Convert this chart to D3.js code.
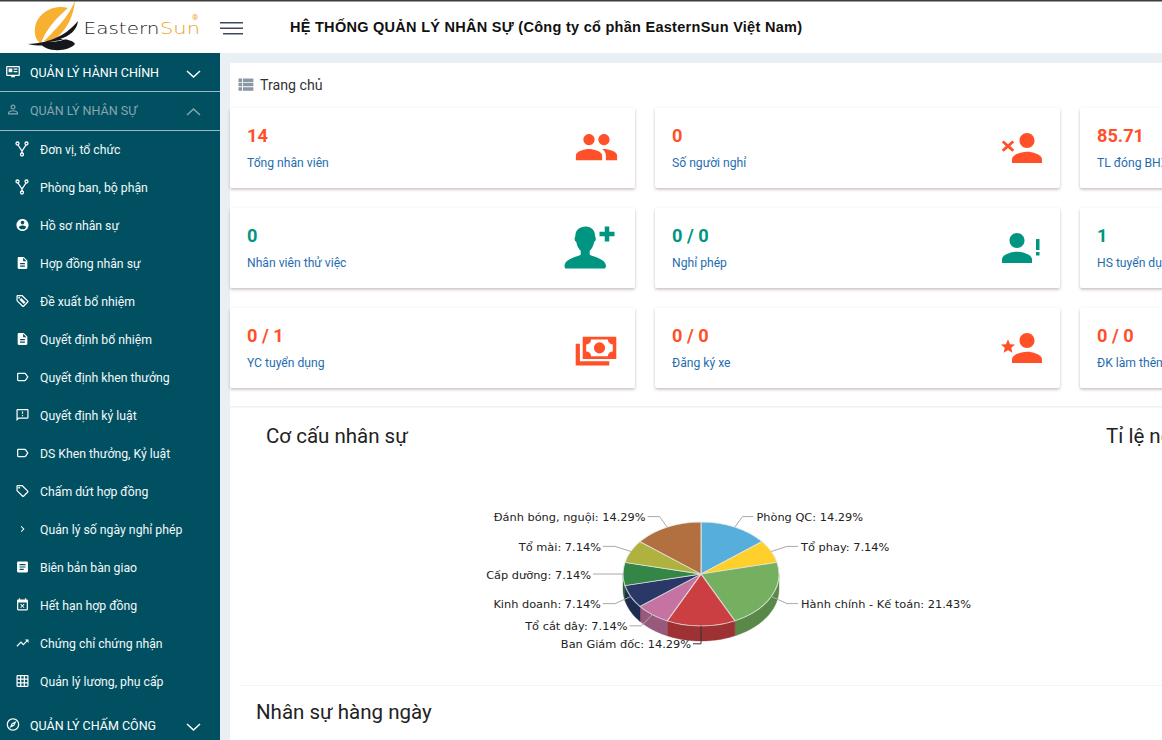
<!DOCTYPE html>
<html><head><meta charset="utf-8">
<style>html,body{margin:0;padding:0;background:#fff;overflow:hidden}svg{display:block}text{font-family:Roboto,sans-serif}</style>
<script src="https://cdn.jsdelivr.net/npm/d3@7/dist/d3.min.js"></script>
</head><body><div id="app"></div>
<script>
// ---- chart data ----
const categories = ["Phòng QC","Tổ phay","Hành chính - Kế toán","Ban Giám đốc","Tổ cắt dây","Kinh doanh","Cấp dưỡng","Tổ mài","Đánh bóng, nguội"];
const headcount = [2,1,3,2,1,1,1,1,2];
const percents = [14.29,7.14,21.43,14.29,7.14,7.14,7.14,7.14,14.29];
const sliceColors = ["#55aedb","#ffd02c","#74b05f","#cb3f42","#c473a2","#2a3868","#338646","#b0b23f","#b27040"];
// ---- page text ----
const menuLabels = ["Đơn vị, tổ chức","Phòng ban, bộ phận","Hồ sơ nhân sự","Hợp đồng nhân sự","Đề xuất bổ nhiệm","Quyết định bổ nhiệm","Quyết định khen thưởng","Quyết định kỷ luật","DS Khen thưởng, Kỷ luật","Chấm dứt hợp đồng","Quản lý số ngày nghỉ phép","Biên bản bàn giao","Hết hạn hợp đồng","Chứng chỉ chứng nhận","Quản lý lương, phụ cấp"];
const menuIcons = ["fork","fork","account","doc","tag2","doc","label","feedback","label","tag","chev","article","busy","trend","grid"];
const cardValues = ["14","0","85.71","0","0 / 0","1","0 / 1","0 / 0","0 / 0"];
const cardLabels = ["Tổng nhân viên","Số người nghỉ","TL đóng BHXH","Nhân viên thử việc","Nghỉ phép","HS tuyển dụng","YC tuyển dụng","Đăng ký xe","ĐK làm thêm"];
const cardTones = ["o","o","o","t","t","t","o","o","o"];

const P = {
 people:"M16 11c1.66 0 2.99-1.34 2.99-3S17.66 5 16 5c-1.66 0-3 1.34-3 3s1.34 3 3 3zm-8 0c1.66 0 2.99-1.34 2.99-3S9.66 5 8 5C6.34 5 5 6.34 5 8s1.34 3 3 3zm0 2c-2.33 0-7 1.17-7 3.5V19h14v-2.5c0-2.33-4.67-3.5-7-3.5zm8 0c-.29 0-.62.02-.97.05 1.16.84 1.97 1.97 1.97 3.45V19h6v-2.5c0-2.33-4.67-3.5-7-3.5z",
 person:"M12 12c2.21 0 4-1.79 4-4s-1.79-4-4-4-4 1.79-4 4 1.79 4 4 4zm0 2c-2.67 0-8 1.34-8 4v2h16v-2c0-2.66-5.33-4-8-4z",
 account:"M12 2C6.48 2 2 6.48 2 12s4.48 10 10 10 10-4.48 10-10S17.52 2 12 2zm0 3c1.66 0 3 1.34 3 3s-1.34 3-3 3-3-1.34-3-3 1.34-3 3-3zm0 14.2c-2.5 0-4.71-1.28-6-3.22.03-1.99 4-3.08 6-3.08 1.99 0 5.97 1.09 6 3.08-1.29 1.94-3.5 3.22-6 3.22z",
 doc:"M14 2H6c-1.1 0-1.99.9-1.99 2L4 20c0 1.1.89 2 1.99 2H18c1.1 0 2-.9 2-2V8l-6-6zm2 16H8v-2h8v2zm0-4H8v-2h8v2zm-3-5V3.5L18.5 9H13z",
 label:"M17.63 5.84C17.27 5.33 16.67 5 16 5L5 5.01C3.9 5.01 3 5.9 3 7v10c0 1.1.9 1.99 2 1.99L16 19c.67 0 1.27-.33 1.63-.84L22 12l-4.37-6.16zM16 17H5V7h11l3.55 5L16 17z",
 feedback:"M20 2H4c-1.1 0-1.99.9-1.99 2L2 22l4-4h14c1.1 0 2-.9 2-2V4c0-1.1-.9-2-2-2zm0 14H5.17L4 17.17V4h16v12zM11 12h2v2h-2zm0-6h2v4h-2z",
 tag:"M21.41 11.58l-9-9C12.05 2.22 11.55 2 11 2H4c-1.1 0-2 .9-2 2v7c0 .55.22 1.05.59 1.42l9 9c.36.36.86.58 1.41.58.55 0 1.05-.22 1.41-.59l7-7c.37-.36.59-.86.59-1.41 0-.55-.23-1.06-.59-1.42zM13 20.01L4 11V4h7v-.01l9 9-7 7.02zM6.5 5a1.5 1.5 0 1 0 0 3 1.5 1.5 0 1 0 0-3z",
 tag2:"M21.41 11.58l-9-9C12.05 2.22 11.55 2 11 2H4c-1.1 0-2 .9-2 2v7c0 .55.22 1.05.59 1.42l9 9c.36.36.86.58 1.41.58.55 0 1.05-.22 1.41-.59l7-7c.37-.36.59-.86.59-1.41 0-.55-.23-1.06-.59-1.42zM13 20.01L4 11V4h7v-.01l9 9-7 7.02zM6.5 5a1.5 1.5 0 1 0 0 3 1.5 1.5 0 1 0 0-3zM10 7l7 7-3 3-7-7z",
 chev:"M10 6L8.59 7.41 13.17 12l-4.58 4.59L10 18l6-6z",
 article:"M19 3H5c-1.1 0-2 .9-2 2v14c0 1.1.9 2 2 2h14c1.1 0 2-.9 2-2V5c0-1.1-.9-2-2-2zm-5 14H7v-2h7v2zm3-4H7v-2h10v2zm0-4H7V7h10v2z",
 busy:"M9.31 17l2.44-2.44L14.19 17l1.06-1.06-2.44-2.44 2.44-2.44L14.19 10l-2.44 2.44L9.31 10l-1.06 1.06 2.44 2.44-2.44 2.44L9.31 17zM19 3h-1V1h-2v2H8V1H6v2H5c-1.11 0-1.99.9-1.99 2L3 19c0 1.1.89 2 2 2h14c1.1 0 2-.9 2-2V5c0-1.1-.9-2-2-2zm0 16H5V8h14v11z",
 trend:"M16 6l2.29 2.29-4.88 4.88-4-4L2 16.59 3.41 18l6-6 4 4 6.3-6.29L22 12V6z",
 grid:"M20 2H4c-1.1 0-2 .9-2 2v16c0 1.1.9 2 2 2h16c1.1 0 2-.9 2-2V4c0-1.1-.9-2-2-2zM8 20H4v-4h4v4zm0-6H4v-4h4v4zm0-6H4V4h4v4zm6 12h-4v-4h4v4zm0-6h-4v-4h4v4zm0-6h-4V4h4v4zm6 12h-4v-4h4v4zm0-6h-4v-4h4v4zm0-6h-4V4h4v4z",
 compass:"M12 2C6.48 2 2 6.48 2 12s4.48 10 10 10 10-4.48 10-10S17.52 2 12 2zm0 18c-4.41 0-8-3.59-8-8s3.59-8 8-8 8 3.59 8 8-3.59 8-8 8zm-5.5-2.5l7.51-3.49L17.5 6.5 9.99 9.99 6.5 17.5zm5.5-6.6c.61 0 1.1.49 1.1 1.1s-.49 1.1-1.1 1.1-1.1-.49-1.1-1.1.49-1.1 1.1-1.1z",
 personOut:"M12 5.9c1.16 0 2.1.94 2.1 2.1s-.94 2.1-2.1 2.1S9.9 9.16 9.9 8s.94-2.1 2.1-2.1m0 9c2.97 0 6.1 1.46 6.1 2.1v1.1H5.9V17c0-.64 3.13-2.1 6.1-2.1M12 4C9.79 4 8 5.79 8 8s1.79 4 4 4 4-1.79 4-4-1.79-4-4-4zm0 9c-2.67 0-8 1.34-8 4v3h16v-3c0-2.66-5.33-4-8-4z",
 monitor:"M21 3H3c-1.1 0-2 .9-2 2v12c0 1.1.9 2 2 2h6v2h6v-2h6c1.1 0 2-.9 2-2V5c0-1.1-.9-2-2-2zm0 14H3V5h18v12zM5 7h6v6H5zM13 7h6v2h-6zM13 11h6v2h-6z",
 viewList:"M4 14h4v-4H4v4zm0 5h4v-4H4v4zM4 9h4V5H4v4zm5 5h12v-4H9v4zm0 5h12v-4H9v4zM9 5v4h12V5H9z",
 bust:"M12 1.5c-3.3 0-5.400 2-5.400 4.500 0 .6-.4 1-.4 2 0 .8.5 1.2.8 1.3.4 2.2 1.3 3.700 2.300 4.600v2.100c-1.500 1-7.800 1.800-8.300 5.400 0 .9.300 1.600 1 1.600h19.200c.7 0 1-.7 1-1.600-.5-3.600-6.800-4.400-8.300-5.400v-2.100c1-.9 1.900-2.400 2.300-4.600.3-.1.8-.5.8-1.300 0-1-.4-1.400-.4-2 0-2.500-2.100-4.500-4.600-4.500z",
 plus:"M9 2h6v7h7v6h-7v7H9v-7H2V9h7z",
 star:"M12 2l3 7.2 7.6.6-5.8 5 1.8 7.4L12 18.3 5.4 22.2l1.8-7.4-5.8-5 7.6-.6z",
 times:"M5 3l7 6 7-6 3 3-6.5 6 6.5 6-3 3-7-6-7 6-3-3 6.5-6L2 6z",
 money:"M3 8h3v12.500h21v3H3zM8 3h24v16H8zM10.500 5v12h19V5zM20 7a4 4 0 1 1 0 8 4 4 0 0 1 0-8zM10.500 5h3.500a3.500 3.500 0 0 1-3.500 3.500zM29.500 5v3.500a3.500 3.500 0 0 1-3.500-3.500zM10.500 17v-3.500a3.500 3.500 0 0 1 3.500 3.500zM29.500 17h-3.500a3.500 3.500 0 0 1 3.500-3.500z"
};

const W = 1162, H = 740;
const svg = d3.select("#app").append("svg").attr("width",W).attr("height",H).attr("viewBox",[0,0,W,H]);
const defs = svg.append("defs");
const shadow = defs.append("filter").attr("id","cardShadow").attr("x","-5%").attr("y","-20%").attr("width","110%").attr("height","150%");
shadow.append("feDropShadow").attr("dx",0).attr("dy",1.5).attr("stdDeviation",1.8).attr("flood-color","#7a5f5f").attr("flood-opacity",.42);

const rect=(g,x,y,w,h,f)=>g.append("rect").attr("x",x).attr("y",y).attr("width",w).attr("height",h).attr("fill",f);
const label=(g,s,x,y,size,fill,weight)=>g.append("text").text(s).attr("x",x).attr("y",y).attr("font-size",size).attr("fill",fill).attr("font-weight",weight||400);
const icon=(g,d,x,y,scale,fill,rule)=>g.append("path").attr("d",d).attr("fill",fill).attr("fill-rule",rule||"nonzero")
  .attr("transform",`translate(${x},${y}) scale(${scale})`);
const centerIcon=(g,d,cx,cy,px,fill,rule)=>icon(g,d,cx-px/2,cy-px/2,px/24,fill,rule);

// page background
rect(svg,0,0,W,H,"#ffffff");
rect(svg,220,53,W-220,H-53,"#e9eff3");
rect(svg,230,63,W-230,H-63,"#ffffff");

// top bar
const topBar = svg.append("g");
const logo = topBar.append("g");
logo.append("path").attr("d","M68 8 C52 4 37 14 35 28 C34 36 37 41 41 44 C44 32 56 18 68 8 Z").attr("fill","#f7b030");
logo.append("path").attr("d","M75 0 C72 10 62 24 44 41 C48 42 52 40 56 38 C66 31 74 16 75 0 Z").attr("fill","#f7b030");
logo.append("path").attr("d","M28 44 C46 43 64 38 78 21 C77 30 70 36 60 39 C67 39 74 41 75 44 C72 48 62 51 55 50 C50 50 45 48 42 45.500 C37 45.500 32 45 28 44 Z").attr("fill","#15171a");
logo.append("path").attr("d","M48 42 C58 41 66 39 72 35 C68 39 62 40.500 56 41.500 Z").attr("fill","#fff");
rect(topBar,0,0,W,1.5,"#3d3d3d");
label(topBar,"Eastern",83.5,34,15,"#232323",200).attr("textLength",76).attr("lengthAdjust","spacingAndGlyphs").style("font-family","'DejaVu Sans'");
label(topBar,"Sun",160,34,15,"#e9a21f",200).attr("textLength",40).attr("lengthAdjust","spacingAndGlyphs").style("font-family","'DejaVu Sans'");
label(topBar,"®",192,19.5,8,"#e9a21f");
topBar.append("g").selectAll("rect").data([[220,22,23],[220,27.5,23],[223,33,20]]).join("rect")
  .attr("x",d=>d[0]).attr("y",d=>d[1]).attr("width",d=>d[2]).attr("height",1.5).attr("fill","#3e4a5c");
label(topBar,"HỆ THỐNG QUẢN LÝ NHÂN SỰ (Công ty cổ phần EasternSun Việt Nam)",290,32,14.5,"#111",700).style("font-family","'Liberation Sans'").attr("textLength",512);

// sidebar
const side = svg.append("g");
rect(side,0,53,220,H-53,"#005062");
const chevron=(g,y,up,col)=>g.append("path").attr("d",up?`M187 ${y+4}L193.5 ${y-2}L200 ${y+4}`:`M187 ${y-2}L193.5 ${y+4}L200 ${y-2}`).attr("fill","none").attr("stroke",col).attr("stroke-width",1.5);
const groups=[["QUẢN LÝ HÀNH CHÍNH",72,"monitor","#fff",false],["QUẢN LÝ NHÂN SỰ",110,"personOut","#8aa6ae",true],["QUẢN LÝ CHẤM CÔNG",725,"compass","#fff",false]];
groups.forEach(([t,y,ic,c,up])=>{
  centerIcon(side,P[ic],13,y-.5,15,c);
  label(side,t,30,y+4.5,12.5,c,400);
  chevron(side,y+1,up,c);
});
[91,130].forEach(y=>rect(side,0,y,220,1,"#9fb8be"));
const my = d3.scalePoint().domain(d3.range(menuLabels.length)).range([149,681]);
menuLabels.forEach((t,i)=>{
  const y=my(i), c="#fff";
  if(menuIcons[i]==="fork"){
    const f=side.append("g").attr("fill","none").attr("stroke",c).attr("stroke-width",1.3);
    f.append("path").attr("d",`M18 ${y-4}L22 ${y+2}L26 ${y-4}M22 ${y+2}V${y+4}`);
    [[17.5,y-5.5],[26.5,y-5.5],[22,y+5.5]].forEach(p=>f.append("circle").attr("cx",p[0]).attr("cy",p[1]).attr("r",1.5));
  } else {
    centerIcon(side,P[menuIcons[i]],22.5,y,menuIcons[i]==="chev"?12:14.5,c,"evenodd");
  }
  label(side,t,40,y+5,12.25,"#f4f8f9",400);
});

// breadcrumb
centerIcon(svg,P.viewList,245.5,84.5,21,"#8b97a3");
label(svg,"Trang chủ",260,90,14.2,"#333",400);

// stat cards
const cardX=[230,655,1080], cardY=[108,208,308];
const tone={o:"#ff5029",t:"#009580"};
cardValues.forEach((v,i)=>{
  const col=i%3,row=Math.floor(i/3),x=cardX[col],y=cardY[row];
  const g=svg.append("g");
  g.append("rect").attr("x",x).attr("y",y).attr("width",405).attr("height",80).attr("rx",2).attr("fill","#fff").attr("filter","url(#cardShadow)");
  label(g,v,x+17,y+33.5,18.2,tone[cardTones[i]],700);
  label(g,cardLabels[i],x+17,y+59,12.15,"#1f6db0",400);
});
const iconLayer=svg.append("g");
const O=tone.o,T=tone.t;
centerIcon(iconLayer,P.people,596.5,147,45,O);
centerIcon(iconLayer,P.person,1027,148,45,O);
centerIcon(iconLayer,P.times,1008,146,15,O);
centerIcon(iconLayer,P.bust,586,247,47,T);
centerIcon(iconLayer,P.plus,607,234,18,T);
centerIcon(iconLayer,P.person,1017,248,45,T);
rect(iconLayer,1036,239,3.5,11,T); rect(iconLayer,1036,252,3.5,3.5,T);
icon(iconLayer,P.money,571.5,332.5,1.4,O,"evenodd");
centerIcon(iconLayer,P.person,1027,348,45,O);
centerIcon(iconLayer,P.star,1008,346,16,O);

// chart panel
const panel=svg.append("g");
rect(panel,230,406,W-230,1.5,"#eef1f3");
label(panel,"Cơ cấu nhân sự",266,443,20.5,"#222",400);
label(panel,"Tỉ lệ nghỉ việc",1106,443,20.5,"#222",400);
rect(panel,240,685,W-240,1,"#f2f4f6");
label(panel,"Nhân sự hàng ngày",256,719,20.5,"#222",400);

// 3D pie
const cx=701, cy=574, rx=78, ry=52, depth=15;
const pie=d3.pie().sort(null).value(d=>d.v)(categories.map((n,i)=>({n,v:headcount[i],pct:percents[i],c:sliceColors[i]})));
const chart=svg.append("g").attr("class","pie3d");
const rimPoint=(a,f=1,dy=0)=>[cx+rx*f*Math.sin(a),cy-ry*f*Math.cos(a)+dy];
const line=d3.line();
const sideG=chart.append("g");
pie.forEach(s=>{
  const a0=Math.max(s.startAngle,Math.PI/2), a1=Math.min(s.endAngle,Math.PI*3/2);
  if(a1<=a0) return;
  const as=d3.range(0,41).map(k=>a0+(a1-a0)*k/40);
  const pts=as.map(a=>rimPoint(a)).concat(as.slice().reverse().map(a=>rimPoint(a,1,depth)));
  sideG.append("path").attr("d",line(pts)+"Z").attr("fill",d3.rgb(s.data.c).darker(.72)).attr("stroke",d3.rgb(s.data.c).darker(.72)).attr("stroke-width",.4);
});
const arc=d3.arc().innerRadius(0).outerRadius(rx);
const face=chart.append("g").attr("transform",`translate(${cx},${cy}) scale(1,${ry/rx})`);
face.selectAll("path").data(pie).join("path").attr("d",arc).attr("fill",d=>d.data.c)
  .attr("stroke","#e8e8e8").attr("stroke-opacity",.75).attr("stroke-width",1.2);

// leader lines + labels, spreading labels that would collide
const layout=pie.map(s=>{
  const a=(s.startAngle+s.endAngle)/2, lowerShift=(Math.cos(a)<-.01)?2:0;
  const p0=rimPoint(a), p1=rimPoint(a,1.225,lowerShift);
  return {s,a,p0,p1,right:a<Math.PI-.001,y:p1[1]};
});
const minGap=18;
const leftSide=layout.filter(d=>!d.right).sort((a,b)=>a.y-b.y);
leftSide.forEach((d,i)=>{ if(i&&d.y<leftSide[i-1].y+minGap) d.y=leftSide[i-1].y+minGap; });
const lab=chart.append("g");
layout.forEach(d=>{
  const bottom=Math.abs(d.a-Math.PI)<.01;
  const ex=d.p1[0], tailX=bottom?ex-8:(d.right?ex+11:ex-12);
  const pts=[d.p0,[ex,d.y],[tailX,d.y]];
  const straight=Math.abs(d.a-Math.PI*1.5)<.01;
  lab.append("path").attr("d",line(straight?[d.p0,[d.p0[0]-30,d.y]]:pts)).attr("fill","none")
    .attr("stroke",bottom?"#333":"#a8a8a8").attr("stroke-width",1);
  const tx=(straight?d.p0[0]-30:tailX)+(d.right?3:-2);
  lab.append("text").text(`${d.s.data.n}: ${d3.format(".2f")(d.s.data.pct)}%`)
    .attr("x",tx).attr("y",d.y+4.5).attr("text-anchor",d.right?"start":"end")
    .attr("font-size",11.35).attr("fill","#222").style("font-family","'DejaVu Sans'");
});
</script></body></html>
